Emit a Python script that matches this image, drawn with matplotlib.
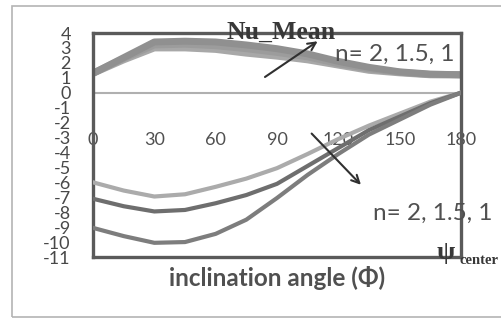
import numpy as np
import matplotlib
matplotlib.use("Agg")
import matplotlib.pyplot as plt
from matplotlib.patches import Rectangle

plt.rcParams['axes.unicode_minus'] = False

# inclination angle (deg)
angle = [0, 15, 30, 45, 60, 75, 90, 105, 120, 135, 150, 165, 180]

# Nu_Mean (positive branch), n = 2, 1.5, 1
nu_n2 = [1.3, 2.35, 3.4, 3.45, 3.4, 3.2, 2.95, 2.6, 2.1, 1.7, 1.4, 1.25, 1.2]
nu_n15 = [1.3, 2.3, 3.2, 3.25, 3.15, 2.95, 2.7, 2.4, 1.95, 1.6, 1.37, 1.22, 1.2]
nu_n1 = [1.3, 2.2, 3.0, 3.0, 2.9, 2.65, 2.45, 2.2, 1.85, 1.5, 1.33, 1.2, 1.2]

# psi_center (negative branch), n = 2, 1.5, 1
psi_n2 = [-6.0, -6.55, -6.95, -6.8, -6.3, -5.75, -5.05, -4.1, -3.1, -2.2, -1.4, -0.6, 0.0]
psi_n15 = [-7.1, -7.6, -7.95, -7.85, -7.4, -6.85, -6.1, -4.9, -3.7, -2.5, -1.6, -0.7, 0.0]
psi_n1 = [-9.05, -9.6, -10.05, -10.0, -9.45, -8.5, -7.05, -5.5, -4.1, -2.8, -1.8, -0.8, 0.0]

xticks = [0, 30, 60, 90, 120, 150, 180]
yticks = list(range(-11, 5))

W, H = 501, 322
fig = plt.figure(figsize=(W / 100, H / 100), dpi=100)
fig.patch.set_facecolor('white')


def px(x, y):
    return x / W, 1 - y / H


# chart area border
fig.patches.append(Rectangle(px(12, 317), (505 - 12) / W, (317 - 6) / H,
                             transform=fig.transFigure, fill=False,
                             edgecolor='#b4b4b4', lw=1.2))

ax = fig.add_axes([93 / W, 1 - 257 / H, (461 - 93) / W, (257 - 33) / H])
ax.set_xlim(0, 180)
ax.set_ylim(-11, 4)

ax.axhline(0, color='#b0b0b0', lw=1.5, zorder=1)

for vals, c in [(nu_n1, '#a8a8a8'), (nu_n15, '#9c9c9c'), (nu_n2, '#909090')]:
    ax.plot(angle, vals, color=c, lw=5, solid_joinstyle='round',
            solid_capstyle='butt', zorder=2)

for vals, c in [(psi_n2, '#ababab'), (psi_n15, '#6e6e6e'), (psi_n1, '#7d7d7d')]:
    ax.plot(angle, vals, color=c, lw=3, solid_joinstyle='round', zorder=3)

for s in ax.spines.values():
    s.set_color('#5a5a5a')
    s.set_linewidth(2.4)

ax.set_xticks([])
ax.set_yticks(yticks)
ax.set_yticklabels([str(v) for v in yticks], fontsize=13, color='#484848',
                   family='Lato')
ax.tick_params(axis='y', length=0, pad=16)

# category labels sit under the zero line
sec = ax.secondary_xaxis((0 - (-11)) / 15)
sec.xaxis.set_ticks_position('bottom')
sec.set_xticks(xticks)
sec.set_xticklabels([str(v) for v in xticks], fontsize=13, color='#505050',
                    family='Lato')
sec.tick_params(length=0, pad=28)
for s in sec.spines.values():
    s.set_visible(False)

ax.annotate('', xy=(111, 3.55), xytext=(83, 0.95),
            arrowprops=dict(arrowstyle='->', color='#303030', lw=1.5,
                            mutation_scale=14))
ax.annotate('', xy=(132, -6.3), xytext=(106, -2.6),
            arrowprops=dict(arrowstyle='->', color='#303030', lw=1.5,
                            mutation_scale=14))

fig.text(*px(281, 32), 'Nu_Mean', ha='center', va='center', fontsize=18.5,
         fontweight='bold', family='Liberation Serif', color='#383838')
fig.text(*px(335, 54), 'n= 2, 1.5, 1', ha='left', va='center', fontsize=17.5,
         family='Lato', color='#505050')
fig.text(*px(373, 213), 'n= 2, 1.5, 1', ha='left', va='center', fontsize=17.5,
         family='Lato', color='#505050')
fig.text(*px(446, 252), 'ψ', ha='center', va='center', fontsize=19,
         fontweight='bold', family='Liberation Serif', color='#383838')
fig.text(*px(459, 260), 'center', ha='left', va='center', fontsize=10.5,
         fontweight='bold', family='Liberation Serif', color='#383838')
fig.text(*px(277, 278), 'inclination angle (Φ)', ha='center', va='center',
         fontsize=17.5, fontweight='bold', family='Lato', color='#505050')

fig.savefig('out.png', dpi=100)
